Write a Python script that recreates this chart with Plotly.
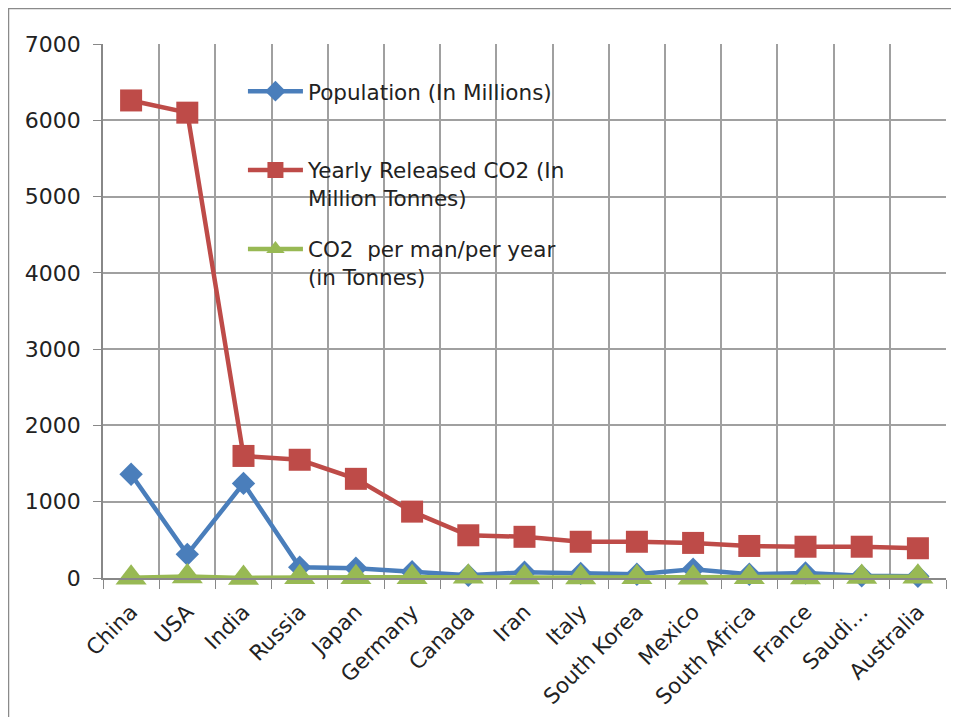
import plotly.graph_objects as go

countries = ["China", "USA", "India", "Russia", "Japan", "Germany", "Canada", "Iran",
             "Italy", "South Korea", "Mexico", "South Africa", "France", "Saudi…", "Australia"]
population = [1360, 310, 1240, 142, 127, 82, 35, 75, 60, 50, 115, 50, 65, 28, 22]
co2_yearly = [6260, 6100, 1600, 1550, 1300, 870, 560, 540, 475, 475, 460, 420, 410, 410, 390]
co2_per_man = [4.6, 19.7, 1.3, 10.9, 10.2, 10.6, 16, 7.2, 7.9, 9.5, 4, 8.4, 6.3, 14.6, 17.7]

names = ["Population (In Millions)<br> ",
         "Yearly Released CO2 (In<br>Million Tonnes)",
         "CO2  per man/per year<br>(in Tonnes)"]
colors = ["#4A7EBB", "#BE4B48", "#98B954"]
symbols = ["diamond", "square", "triangle-up"]
sizes = [18, 22, 27]

FONT = "DejaVu Sans"
W, H = 951, 709
L, R, T, B = 95, 13, 36, 139
PW, PH = W - L - R, H - T - B

fig = go.Figure()
for i, (vals, nm) in enumerate(zip([population, co2_yearly, co2_per_man], names)):
    fig.add_trace(go.Scatter(
        x=countries, y=vals, name=nm, mode="lines+markers",
        line=dict(color=colors[i], width=4.5),
        marker=dict(symbol=symbols[i], size=sizes[i], color=colors[i]),
        legendgroup=f"g{i}", cliponaxis=False,
    ))

fig.update_layout(
    width=W, height=H,
    margin=dict(l=L, r=R, t=T, b=B),
    paper_bgcolor="white", plot_bgcolor="white",
    font=dict(family=FONT, size=21, color="#222"),
    showlegend=True,
    legend=dict(x=0.166, y=0.95, xanchor="left", yanchor="top",
                bgcolor="rgba(255,255,255,0)", traceorder="grouped",
                tracegroupgap=20, itemwidth=55, valign="top",
                font=dict(family=FONT, size=21.5, color="#222")),
    xaxis=dict(type="category", range=[-0.5, 14.5], tickangle=-45,
               tickson="boundaries", ticks="outside", ticklen=9, tickcolor="#888",
               showgrid=True, gridcolor="#A0A0A0", gridwidth=1.5,
               showline=True, linecolor="#888", linewidth=1.5, mirror=False,
               ticklabelstandoff=11, automargin=False,
               tickfont=dict(family=FONT, size=21.5, color="#222")),
    yaxis=dict(range=[0, 7000], dtick=1000, ticks="outside", ticklen=8, tickcolor="#888",
               showgrid=True, gridcolor="#A0A0A0", gridwidth=1.5, zeroline=False,
               showline=True, linecolor="#888", linewidth=1.5,
               ticklabelstandoff=8, automargin=False,
               tickfont=dict(family=FONT, size=22, color="#222")),
    shapes=[dict(type="rect", xref="paper", yref="paper",
                 x0=(0 - L) / PW, x1=(W + 10 - L) / PW,
                 y0=(PH + T - (H + 10)) / PH, y1=(PH + T - 0) / PH,
                 line=dict(color="#8A8A8A", width=2.5), layer="below")],
)

fig.write_html("out.html")
